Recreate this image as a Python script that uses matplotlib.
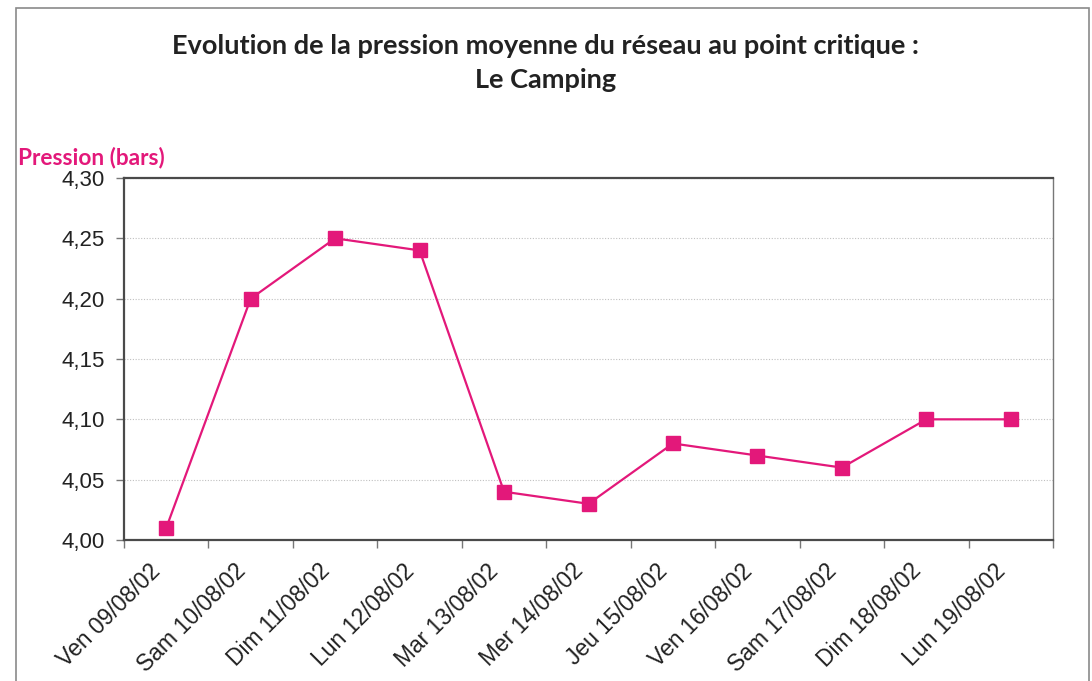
import matplotlib
matplotlib.use("Agg")
import matplotlib.pyplot as plt
from matplotlib.patches import Rectangle
from matplotlib.ticker import FixedLocator, FuncFormatter
from matplotlib.transforms import ScaledTranslation

# Daily mean network pressure at the critical point
jours = ["Ven 09/08/02", "Sam 10/08/02", "Dim 11/08/02", "Lun 12/08/02",
         "Mar 13/08/02", "Mer 14/08/02", "Jeu 15/08/02", "Ven 16/08/02",
         "Sam 17/08/02", "Dim 18/08/02", "Lun 19/08/02"]
pression = [4.01, 4.20, 4.25, 4.24, 4.04, 4.03, 4.08, 4.07, 4.06, 4.10, 4.10]
y_ticks = [4.00, 4.05, 4.10, 4.15, 4.20, 4.25, 4.30]

MAGENTA = "#E3187A"
AXE = "#4a4a4a"

fig = plt.figure(figsize=(10.92, 6.81), dpi=100)
fig.patch.set_facecolor("white")

# page frame
fig.add_artist(Rectangle((16 / 1092, -0.05), (1089 - 16) / 1092, 1.05 - 8 / 681,
                         transform=fig.transFigure, fill=False,
                         edgecolor="#8a8a8a", linewidth=1.2))

ax = fig.add_axes([124 / 1092, 1 - 540 / 681, (1053 - 124) / 1092, (540 - 178) / 681])

x = list(range(len(jours)))
ax.plot(x, pression, color=MAGENTA, linewidth=1.6, marker="s", markersize=9.5,
        markerfacecolor=MAGENTA, markeredgecolor=MAGENTA, zorder=3)

ax.set_xlim(-0.5, len(jours) - 0.5)
ax.set_ylim(4.00, 4.30)

ax.yaxis.set_major_locator(FixedLocator(y_ticks))
ax.yaxis.set_major_formatter(FuncFormatter(lambda v, p: f"{v:.2f}".replace(".", ",")))
ax.tick_params(axis="y", direction="out", length=5.5, width=1, color="#777777",
               labelsize=16, labelcolor="#222222", pad=8)
for lab in ax.get_yticklabels():
    lab.set_fontfamily("Liberation Sans")

# category labels at centres, tick marks at boundaries
ax.set_xticks(x)
ax.set_xticklabels(jours, rotation=45, ha="right", va="top",
                   rotation_mode="anchor", fontsize=16.5, color="#222222",
                   fontfamily="Liberation Sans")
ax.tick_params(axis="x", which="major", length=0, pad=14)
shift = ScaledTranslation(-17 / 100, 0, fig.dpi_scale_trans)
for lab in ax.get_xticklabels():
    lab.set_transform(lab.get_transform() + shift)
ax.set_xticks([i - 0.5 for i in range(len(jours) + 1)], minor=True)
ax.tick_params(axis="x", which="minor", direction="out", length=5.5, width=1,
               color="#777777")

ax.grid(axis="y", which="major", linestyle=(0, (1, 1.5)), color="#c0c0c0",
        linewidth=0.8)
ax.set_axisbelow(True)

for side in ["left", "bottom", "top"]:
    ax.spines[side].set_color(AXE)
    ax.spines[side].set_linewidth(1.6)
ax.spines["right"].set_color("#777777")
ax.spines["right"].set_linewidth(1.0)

fig.text(0.5, 1 - 46 / 681, "Evolution de la pression moyenne du réseau au point critique :",
         ha="center", va="center", fontsize=19.5, fontweight="bold",
         fontfamily="Lato", color="#222222")
fig.text(0.5, 1 - 80 / 681, "Le Camping", ha="center", va="center",
         fontsize=19.5, fontweight="bold", fontfamily="Lato", color="#222222")

fig.text(18 / 1092, 1 - 157 / 681, "Pression (bars)", ha="left", va="center",
         fontsize=16.3, fontweight="bold", fontfamily="Lato", color=MAGENTA)

fig.savefig("out.png", dpi=100, facecolor="white")
